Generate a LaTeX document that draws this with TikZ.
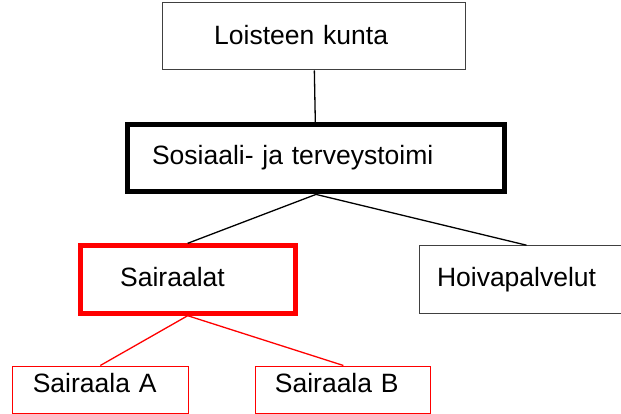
\documentclass[tikz,border=0pt]{standalone}
\usepackage{fontspec}
\setmainfont{Liberation Sans}
\usepackage{tikz}
\tikzset{basic/.style={draw,rectangle,inner sep=0pt,align=left,
                       font=\fontsize{26.5}{30}\selectfont,text height=20pt}}
\tikzset{office/.style={basic,draw=black!75,line width=1pt}}
\tikzset{head/.style={basic,line width=5pt}}
\tikzset{hospital/.style={basic,draw=red,line width=5pt}}
\tikzset{ward/.style={basic,draw=red,line width=1pt}}
\tikzset{boxsize/.style n args={4}{text width=#1,minimum height=#2,text depth=#3,
                       execute at begin node={\hspace*{#4}}}}
\tikzset{link/.style={line width=1.3pt}}

\begin{document}
\begin{tikzpicture}[x=1pt,y=-1pt]
    \useasboundingbox (0,0) rectangle (621,414);

    % municipality
    \node[office,boxsize={303pt}{67pt}{3pt}{52pt}] (kunta) at (313.7,36.5) {Loisteen kunta};
    % department
    \node[head,boxsize={377pt}{67pt}{6.8pt}{24.5pt}] (sote) at (316,158.4) {Sosiaali- ja terveystoimi};

    % units
    \node[hospital,boxsize={215pt}{67.4pt}{7pt}{40pt}] (sairaalat) at (187.7,279.5) {Sairaalat};
    \node[office,boxsize={215pt}{67.6pt}{7pt}{18pt}] (hoiva) at (526.5,279.5) {Hoivapalvelut};

    % hospitals
    \node[ward,boxsize={176pt}{47pt}{14.4pt}{20.5pt}] (sairA) at (100.3,389.5) {Sairaala A};
    \node[ward,boxsize={175pt}{47pt}{14.4pt}{19pt}] (sairB) at (343.4,389.5) {Sairaala B};

    \draw[link] (kunta) -- (sote);
    \draw[link] (sote.south) -- (sairaalat.north);
    \draw[link] (sote.south) -- (hoiva.north);
    \draw[link,red] (sairaalat.south) -- (sairA.north);
    \draw[link,red] (sairaalat.south) -- (sairB.north);
\end{tikzpicture}
\end{document}
